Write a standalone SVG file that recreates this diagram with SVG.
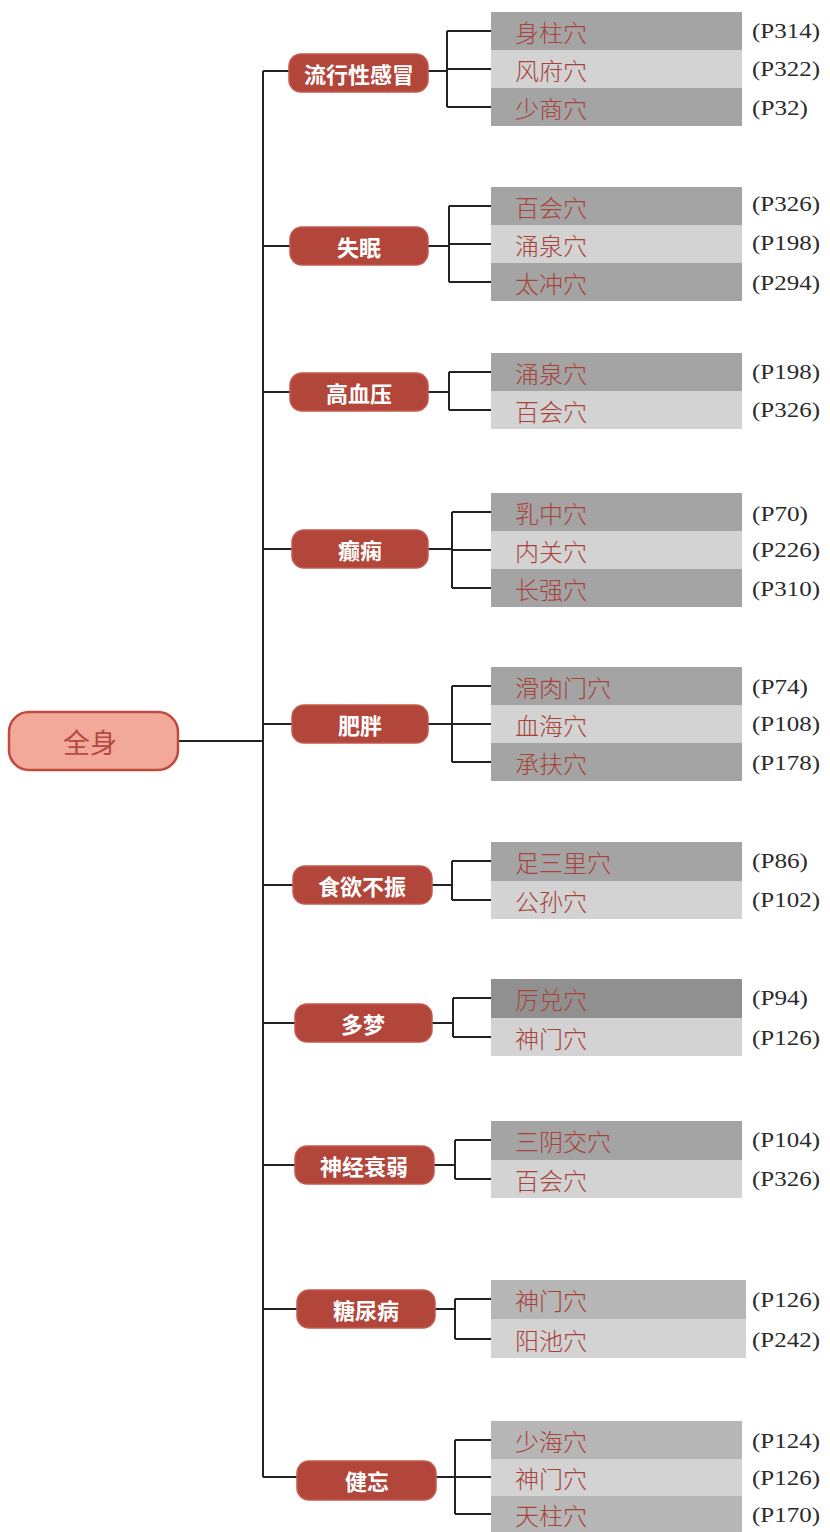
<svg xmlns="http://www.w3.org/2000/svg" width="830" height="1532" viewBox="0 0 830 1532">
<style>
.bg{fill:#ffffff}
.ln{stroke:#222;stroke-width:2;fill:none}
.root{fill:#f2a99a;stroke:#c04a3e;stroke-width:2.5}
.roott{font-family:"Noto Sans CJK SC",sans-serif;font-size:27px;fill:#b24a3e;text-anchor:middle;dominant-baseline:central}
.cat{fill:#b2463b;stroke:#c45a4c;stroke-width:1.5}
.catt{font-family:"Noto Sans CJK SC",sans-serif;font-size:22px;font-weight:700;fill:#ffffff;text-anchor:middle;dominant-baseline:central}
.dk{fill:#a4a4a4}
.md{fill:#b6b6b6}
.lt{fill:#d3d3d3}
.vd{fill:#909090}
.it{font-family:"Noto Sans CJK SC",sans-serif;font-size:24px;font-weight:300;fill:#a8423a;dominant-baseline:central}
.pg{font-family:"Liberation Serif",serif;font-size:22px;fill:#2a2a2a;dominant-baseline:central}
</style>
<rect class="bg" x="0" y="0" width="830" height="1532"/>

<g id="connectors">
  <line class="ln" x1="178" y1="741" x2="263" y2="741"/>
  <line class="ln" x1="263" y1="71" x2="263" y2="1477"/>
  <path class="ln" d="M263 71H290 M428 71H447 M447 31V107 M447 31H491 M447 69H491 M447 107H491"/>
  <path class="ln" d="M263 246H290 M428 246H449 M449 206V282 M449 206H491 M449 244H491 M449 282H491"/>
  <path class="ln" d="M263 392H290 M428 392H449 M449 372V410 M449 372H491 M449 410H491"/>
  <path class="ln" d="M263 549H292 M428 549H452 M452 512V588 M452 512H491 M452 550H491 M452 588H491"/>
  <path class="ln" d="M263 724H292 M428 724H452 M452 686V762 M452 686H491 M452 724H491 M452 762H491"/>
  <path class="ln" d="M263 885H293 M432 885H452 M452 861V900 M452 861H491 M452 900H491"/>
  <path class="ln" d="M263 1023H295 M432 1023H453 M453 998V1037 M453 998H491 M453 1037H491"/>
  <path class="ln" d="M263 1165H295 M434 1165H455 M455 1140V1179 M455 1140H491 M455 1179H491"/>
  <path class="ln" d="M263 1309H297 M435 1309H455 M455 1299V1339 M455 1299H491 M455 1339H491"/>
  <path class="ln" d="M263 1477H297 M436 1477H455 M455 1440V1514 M455 1440H491 M455 1477H491 M455 1514H491"/>
</g>

<g id="root">
  <rect class="root" x="9" y="712" width="169" height="58" rx="20"/>
  <text class="roott" x="90" y="741">全身</text>
</g>

<g id="cat1"><rect class="cat" x="289" y="54" width="139" height="38" rx="12"/><text class="catt" x="359" y="73">流行性感冒</text></g>
<g id="cat2"><rect class="cat" x="290" y="227" width="138" height="38" rx="12"/><text class="catt" x="359" y="246">失眠</text></g>
<g id="cat3"><rect class="cat" x="290" y="373" width="138" height="38" rx="12"/><text class="catt" x="359" y="392">高血压</text></g>
<g id="cat4"><rect class="cat" x="292" y="530" width="136" height="38" rx="12"/><text class="catt" x="360" y="549">癫痫</text></g>
<g id="cat5"><rect class="cat" x="292" y="705" width="136" height="38" rx="12"/><text class="catt" x="360" y="724">肥胖</text></g>
<g id="cat6"><rect class="cat" x="293" y="866" width="139" height="38" rx="12"/><text class="catt" x="362" y="885">食欲不振</text></g>
<g id="cat7"><rect class="cat" x="295" y="1004" width="137" height="38" rx="12"/><text class="catt" x="363" y="1023">多梦</text></g>
<g id="cat8"><rect class="cat" x="295" y="1146" width="139" height="38" rx="12"/><text class="catt" x="364" y="1165">神经衰弱</text></g>
<g id="cat9"><rect class="cat" x="297" y="1290" width="138" height="38" rx="12"/><text class="catt" x="366" y="1309">糖尿病</text></g>
<g id="cat10"><rect class="cat" x="297" y="1461" width="139" height="39" rx="12"/><text class="catt" x="367" y="1480">健忘</text></g>

<g id="group1">
  <rect class="dk" x="491" y="12" width="251" height="38"/>
  <rect class="lt" x="491" y="50" width="251" height="38"/>
  <rect class="dk" x="491" y="88" width="251" height="38"/>
  <text class="it" x="515" y="31">身柱穴</text>
  <text class="it" x="515" y="69">风府穴</text>
  <text class="it" x="515" y="107">少商穴</text>
  <text class="pg" x="752" y="30" textLength="68" lengthAdjust="spacingAndGlyphs">(P314)</text>
  <text class="pg" x="752" y="68" textLength="68" lengthAdjust="spacingAndGlyphs">(P322)</text>
  <text class="pg" x="752" y="107" textLength="56" lengthAdjust="spacingAndGlyphs">(P32)</text>
</g>
<g id="group2">
  <rect class="dk" x="491" y="187" width="251" height="38"/>
  <rect class="lt" x="491" y="225" width="251" height="38"/>
  <rect class="dk" x="491" y="263" width="251" height="38"/>
  <text class="it" x="515" y="206">百会穴</text>
  <text class="it" x="515" y="244">涌泉穴</text>
  <text class="it" x="515" y="282">太冲穴</text>
  <text class="pg" x="752" y="203" textLength="68" lengthAdjust="spacingAndGlyphs">(P326)</text>
  <text class="pg" x="752" y="242" textLength="68" lengthAdjust="spacingAndGlyphs">(P198)</text>
  <text class="pg" x="752" y="282" textLength="68" lengthAdjust="spacingAndGlyphs">(P294)</text>
</g>
<g id="group3">
  <rect class="dk" x="491" y="353" width="251" height="38"/>
  <rect class="lt" x="491" y="391" width="251" height="38"/>
  <text class="it" x="515" y="372">涌泉穴</text>
  <text class="it" x="515" y="410">百会穴</text>
  <text class="pg" x="752" y="371" textLength="68" lengthAdjust="spacingAndGlyphs">(P198)</text>
  <text class="pg" x="752" y="409" textLength="68" lengthAdjust="spacingAndGlyphs">(P326)</text>
</g>
<g id="group4">
  <rect class="dk" x="491" y="493" width="251" height="38"/>
  <rect class="lt" x="491" y="531" width="251" height="38"/>
  <rect class="dk" x="491" y="569" width="251" height="38"/>
  <text class="it" x="515" y="512">乳中穴</text>
  <text class="it" x="515" y="550">内关穴</text>
  <text class="it" x="515" y="588">长强穴</text>
  <text class="pg" x="752" y="513" textLength="56" lengthAdjust="spacingAndGlyphs">(P70)</text>
  <text class="pg" x="752" y="549" textLength="68" lengthAdjust="spacingAndGlyphs">(P226)</text>
  <text class="pg" x="752" y="588" textLength="68" lengthAdjust="spacingAndGlyphs">(P310)</text>
</g>
<g id="group5">
  <rect class="dk" x="491" y="667" width="251" height="38"/>
  <rect class="lt" x="491" y="705" width="251" height="38"/>
  <rect class="dk" x="491" y="743" width="251" height="38"/>
  <text class="it" x="515" y="686">滑肉门穴</text>
  <text class="it" x="515" y="724">血海穴</text>
  <text class="it" x="515" y="762">承扶穴</text>
  <text class="pg" x="752" y="686" textLength="56" lengthAdjust="spacingAndGlyphs">(P74)</text>
  <text class="pg" x="752" y="723" textLength="68" lengthAdjust="spacingAndGlyphs">(P108)</text>
  <text class="pg" x="752" y="762" textLength="68" lengthAdjust="spacingAndGlyphs">(P178)</text>
</g>
<g id="group6">
  <rect class="dk" x="491" y="842" width="251" height="39"/>
  <rect class="lt" x="491" y="881" width="251" height="38"/>
  <text class="it" x="515" y="861">足三里穴</text>
  <text class="it" x="515" y="900">公孙穴</text>
  <text class="pg" x="752" y="860" textLength="56" lengthAdjust="spacingAndGlyphs">(P86)</text>
  <text class="pg" x="752" y="899" textLength="68" lengthAdjust="spacingAndGlyphs">(P102)</text>
</g>
<g id="group7">
  <rect class="vd" x="491" y="979" width="251" height="39"/>
  <rect class="lt" x="491" y="1018" width="251" height="38"/>
  <text class="it" x="515" y="998">厉兑穴</text>
  <text class="it" x="515" y="1037">神门穴</text>
  <text class="pg" x="752" y="997" textLength="56" lengthAdjust="spacingAndGlyphs">(P94)</text>
  <text class="pg" x="752" y="1037" textLength="68" lengthAdjust="spacingAndGlyphs">(P126)</text>
</g>
<g id="group8">
  <rect class="dk" x="491" y="1121" width="251" height="39"/>
  <rect class="lt" x="491" y="1160" width="251" height="38"/>
  <text class="it" x="515" y="1140">三阴交穴</text>
  <text class="it" x="515" y="1179">百会穴</text>
  <text class="pg" x="752" y="1139" textLength="68" lengthAdjust="spacingAndGlyphs">(P104)</text>
  <text class="pg" x="752" y="1178" textLength="68" lengthAdjust="spacingAndGlyphs">(P326)</text>
</g>
<g id="group9">
  <rect class="md" x="491" y="1280" width="255" height="39"/>
  <rect class="lt" x="491" y="1319" width="255" height="39"/>
  <text class="it" x="515" y="1299">神门穴</text>
  <text class="it" x="515" y="1339">阳池穴</text>
  <text class="pg" x="752" y="1299" textLength="68" lengthAdjust="spacingAndGlyphs">(P126)</text>
  <text class="pg" x="752" y="1339" textLength="68" lengthAdjust="spacingAndGlyphs">(P242)</text>
</g>
<g id="group10">
  <rect class="md" x="491" y="1421" width="251" height="38"/>
  <rect class="lt" x="491" y="1459" width="251" height="37"/>
  <rect class="md" x="491" y="1496" width="251" height="36"/>
  <text class="it" x="515" y="1440">少海穴</text>
  <text class="it" x="515" y="1477">神门穴</text>
  <text class="it" x="515" y="1514">天柱穴</text>
  <text class="pg" x="752" y="1440" textLength="68" lengthAdjust="spacingAndGlyphs">(P124)</text>
  <text class="pg" x="752" y="1477" textLength="68" lengthAdjust="spacingAndGlyphs">(P126)</text>
  <text class="pg" x="752" y="1514" textLength="68" lengthAdjust="spacingAndGlyphs">(P170)</text>
</g>
</svg>
